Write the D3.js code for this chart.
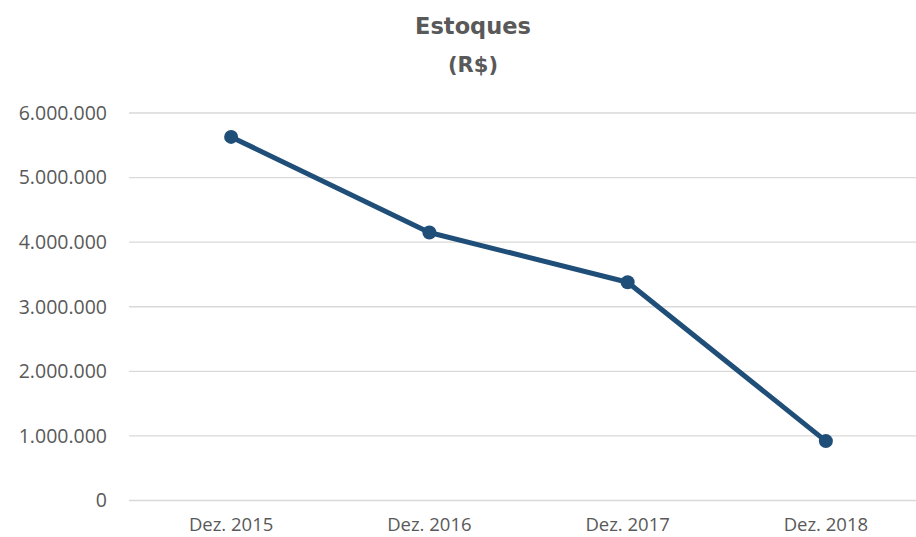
<!DOCTYPE html>
<html>
<head>
<meta charset="utf-8">
<script src="https://cdn.jsdelivr.net/npm/d3@7"></script>
<style>
  html, body { margin: 0; padding: 0; background: #fff; }
  svg { display: block; }
</style>
</head>
<body>
<svg id="chart" width="916" height="537"></svg>
<script>
const categories = ["Dez. 2015", "Dez. 2016", "Dez. 2017", "Dez. 2018"];
const values = [5630000, 4150000, 3380000, 920000];
const yTicks = [0, 1000000, 2000000, 3000000, 4000000, 5000000, 6000000];
const titleLines = ["Estoques", "(R$)"];

const W = 916, H = 537;
const svg = d3.select("#chart");

const locale = d3.formatLocale({ decimal: ",", thousands: ".", grouping: [3], currency: ["R$", ""] });
const fmt = locale.format(",.0f");

const x = d3.scalePoint().domain(categories).range([132, 925]).padding(0.5);
const y = d3.scaleLinear().domain([0, 6000000]).range([500.5, 113]);

const textColor = "#595959";
const font = "'Open Sans', 'DejaVu Sans', sans-serif";

// gridlines
svg.append("g").selectAll("line").data(yTicks).join("line")
  .attr("x1", 129).attr("x2", W)
  .attr("y1", d => y(d)).attr("y2", d => y(d))
  .attr("stroke", "#d9d9d9").attr("stroke-width", 1.3);

// y labels
svg.append("g").selectAll("text").data(yTicks).join("text")
  .attr("x", 107).attr("y", d => y(d))
  .attr("dy", "0.35em")
  .attr("text-anchor", "end")
  .attr("fill", textColor)
  .style("font-family", font).style("font-size", "19.5px")
  .text(d => fmt(d));

// x labels
svg.append("g").selectAll("text").data(categories).join("text")
  .attr("x", d => x(d)).attr("y", 531)
  .attr("text-anchor", "middle")
  .attr("fill", textColor)
  .style("font-family", font).style("font-size", "18.5px")
  .text(d => d);

// line
const line = d3.line().x((d, i) => x(categories[i])).y(d => y(d));
svg.append("path").datum(values)
  .attr("d", line)
  .attr("fill", "none")
  .attr("stroke", "#1f4e79")
  .attr("stroke-width", 5)
  .attr("stroke-linejoin", "round");

svg.append("g").selectAll("circle").data(values).join("circle")
  .attr("cx", (d, i) => x(categories[i])).attr("cy", d => y(d))
  .attr("r", 7)
  .attr("fill", "#1f4e79");

// title
svg.append("text").attr("x", 473).attr("y", 34)
  .attr("text-anchor", "middle").attr("fill", textColor)
  .style("font-family", "'DejaVu Sans', sans-serif").style("font-weight", "bold").style("font-size", "22.5px")
  .text(titleLines[0]);
svg.append("text").attr("x", 473).attr("y", 72)
  .attr("text-anchor", "middle").attr("fill", textColor)
  .style("font-family", "'DejaVu Sans', sans-serif").style("font-weight", "bold").style("font-size", "21px")
  .text(titleLines[1]);
</script>
</body>
</html>
